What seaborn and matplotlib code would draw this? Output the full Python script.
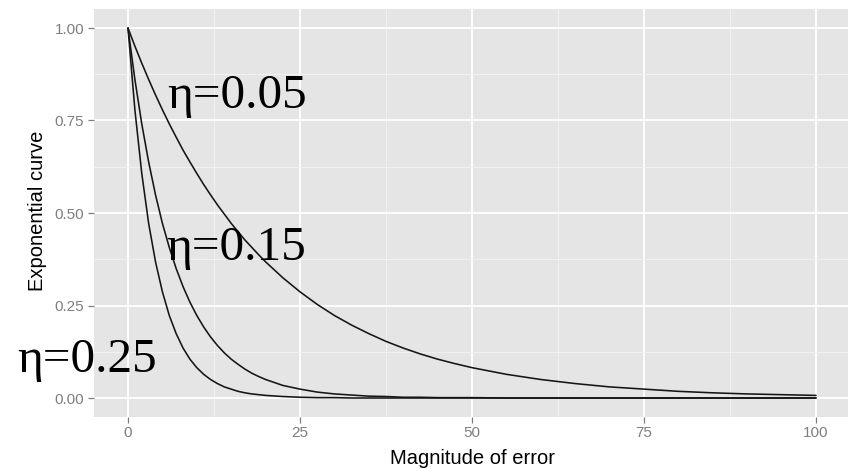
import matplotlib
matplotlib.use("Agg")
import matplotlib.pyplot as plt
import seaborn as sns
import pandas as pd

# Values
x_error = [0, 1, 2, 3, 4, 5, 6, 7, 8, 9, 10, 11, 12, 13, 14, 15, 16, 17, 18, 19, 20,
           22.5, 25, 27.5, 30, 32.5, 35, 37.5, 40, 42.5, 45, 47.5, 50,
           55, 60, 65, 70, 75, 80, 85, 90, 95, 100]
curve_eta_005 = [1.000, 0.951, 0.905, 0.861, 0.819, 0.779, 0.741, 0.705, 0.670, 0.638, 0.607,
                 0.577, 0.549, 0.522, 0.497, 0.472, 0.449, 0.427, 0.407, 0.387, 0.368,
                 0.325, 0.287, 0.253, 0.223, 0.197, 0.174, 0.153, 0.135, 0.119, 0.105, 0.093, 0.082,
                 0.064, 0.050, 0.039, 0.030, 0.024, 0.018, 0.014, 0.011, 0.009, 0.007]
curve_eta_015 = [1.000, 0.861, 0.741, 0.638, 0.549, 0.472, 0.407, 0.350, 0.301, 0.259, 0.223,
                 0.192, 0.165, 0.142, 0.122, 0.105, 0.091, 0.078, 0.067, 0.058, 0.050,
                 0.034, 0.024, 0.016, 0.011, 0.008, 0.005, 0.004, 0.002, 0.002, 0.001, 0.001, 0.001,
                 0.000, 0.000, 0.000, 0.000, 0.000, 0.000, 0.000, 0.000, 0.000, 0.000]
curve_eta_025 = [1.000, 0.779, 0.607, 0.472, 0.368, 0.287, 0.223, 0.174, 0.135, 0.105, 0.082,
                 0.064, 0.050, 0.039, 0.030, 0.024, 0.018, 0.014, 0.011, 0.009, 0.007,
                 0.004, 0.002, 0.001, 0.001, 0.000, 0.000, 0.000, 0.000, 0.000, 0.000, 0.000, 0.000,
                 0.000, 0.000, 0.000, 0.000, 0.000, 0.000, 0.000, 0.000, 0.000, 0.000]
eta_labels = ["η=0.05", "η=0.15", "η=0.25"]
x_ticks = [0, 25, 50, 75, 100]
x_ticklabels = ["0", "25", "50", "75", "100"]
y_ticks = [0.00, 0.25, 0.50, 0.75, 1.00]
y_ticklabels = ["0.00", "0.25", "0.50", "0.75", "1.00"]
x_title = "Magnitude of error"
y_title = "Exponential curve"

frames = []
for lab, vals in zip(eta_labels, [curve_eta_005, curve_eta_015, curve_eta_025]):
    frames.append(pd.DataFrame({"x": x_error, "y": vals, "eta": lab}))
df = pd.concat(frames, ignore_index=True)

sns.set_theme(style="white")
plt.rcParams["font.family"] = ["Liberation Sans", "DejaVu Sans"]

W, H = 848, 469
fig = plt.figure(figsize=(W / 100, H / 100), dpi=100)
left, right, top, bottom = 94, 848, 9.5, 416.5
ax = fig.add_axes([left / W, 1 - bottom / H, (right - left) / W, (bottom - top) / H])
ax.set_facecolor("#E5E5E5")
for s in ax.spines.values():
    s.set_visible(False)

# x: 0 at px 128, 100 at px 816
px_per = (816 - 128) / 100
ax.set_xlim((left - 128) / px_per, (right - 128) / px_per)
ax.set_ylim(-0.05, 1.05)

ax.set_xticks(x_ticks)
ax.set_xticklabels(x_ticklabels)
ax.set_yticks(y_ticks)
ax.set_yticklabels(y_ticklabels)
ax.set_xticks([12.5, 37.5, 62.5, 87.5], minor=True)
ax.set_yticks([0.125, 0.375, 0.625, 0.875], minor=True)
ax.grid(True, which="major", color="white", linewidth=1.3)
ax.grid(True, which="minor", color="#F2F2F2", linewidth=0.7)
ax.set_axisbelow(True)
ax.tick_params(axis="both", which="major", direction="out", length=4, width=0.9,
               color="#7F7F7F", labelcolor="#7F7F7F", labelsize=11, pad=3,
               left=True, bottom=True)
ax.tick_params(axis="both", which="minor", length=0)

sns.lineplot(data=df, x="x", y="y", hue="eta", palette=["#151515"] * 3,
             linewidth=1.15, legend=False, ax=ax, sort=False, estimator=None)
ax.set_xlabel("")
ax.set_ylabel("")

fig.text(472 / W, 1 - 464 / H, x_title, ha="center", va="baseline", fontsize=14.5, color="black")
fig.text(38 / W, 1 - 211 / H, y_title, ha="center", va="center", rotation=90,
         fontsize=14.5, color="black")

serif = ["Liberation Serif", "DejaVu Serif"]
ann_pos = [(167, 108.5), (166, 260), (17, 372)]
for lab, (px, py) in zip(eta_labels, ann_pos):
    fig.text(px / W, 1 - py / H, lab, ha="left", va="baseline", fontsize=35.5,
             family=serif, color="black")

fig.savefig("out.png", dpi=100)
